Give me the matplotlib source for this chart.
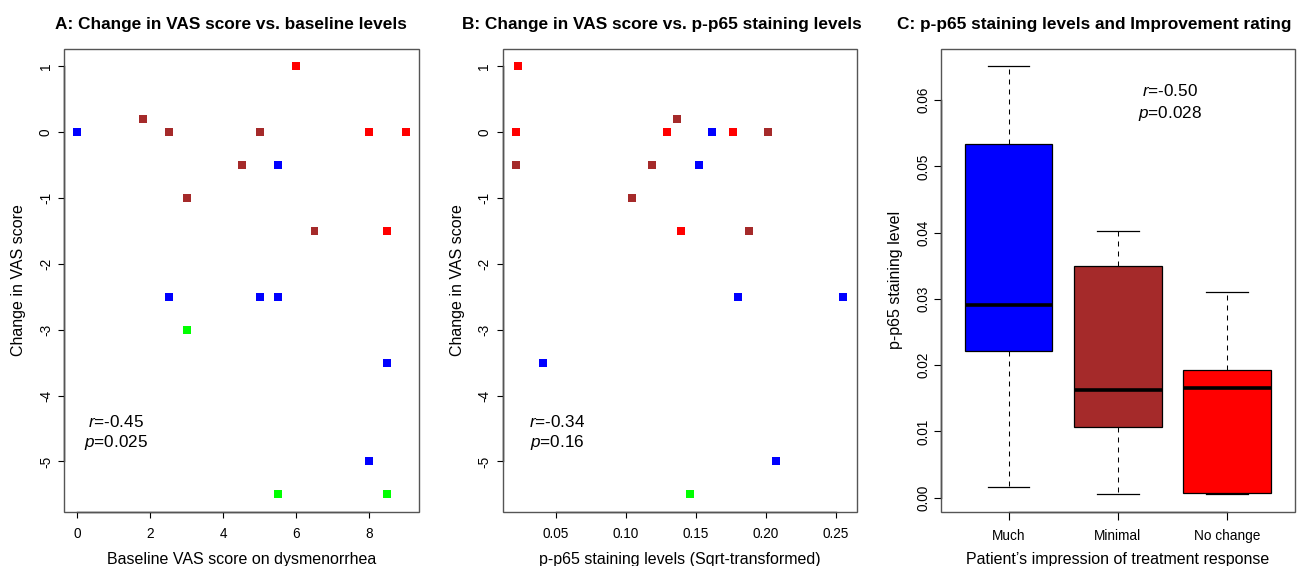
import numpy as np
import matplotlib.pyplot as plt
from matplotlib.patches import Rectangle

plt.rcParams['font.family'] = 'Liberation Sans'
plt.rcParams['axes.unicode_minus'] = False
plt.rcParams['mathtext.fontset'] = 'custom'
plt.rcParams['mathtext.it'] = 'Liberation Sans:italic'
plt.rcParams['mathtext.rm'] = 'Liberation Sans'

# response group colours (R style)
group_colors = {'much': 'blue', 'minimal': 'brown', 'none': 'red', 'other': 'lime'}

# panel A: baseline VAS vs change in VAS
vas_base = [0, 1.8, 2.5, 3, 4.5, 5, 6.5, 5.5, 2.5, 5, 5.5, 8.5, 8, 6, 8, 9, 8.5, 3, 5.5, 8.5]
vas_change_a = [0, 0.2, 0, -1, -0.5, 0, -1.5, -0.5, -2.5, -2.5, -2.5, -3.5, -5, 1, 0, 0, -1.5, -3, -5.5, -5.5]
group_a = ['much', 'minimal', 'minimal', 'minimal', 'minimal', 'minimal', 'minimal',
           'much', 'much', 'much', 'much', 'much', 'much',
           'none', 'none', 'none', 'none', 'other', 'other', 'other']

# panel B: sqrt p-p65 staining vs change in VAS
p65_sqrt = [0.0229, 0.0214, 0.0214, 0.0407, 0.1043, 0.1186, 0.1293, 0.1364, 0.1393, 0.1457,
            0.1521, 0.1614, 0.1764, 0.1800, 0.1879, 0.2014, 0.2071, 0.2547, 0.2552]
vas_change_b = [1, 0, -0.5, -3.5, -1, -0.5, 0, 0.2, -1.5, -5.5, -0.5, 0, 0, -2.5, -1.5, 0, -5, -2.5, -2.5]
group_b = ['none', 'none', 'minimal', 'much', 'minimal', 'minimal', 'none', 'minimal', 'none', 'other',
           'much', 'much', 'none', 'much', 'minimal', 'minimal', 'much', 'much', 'much']

# panel C: p-p65 staining by improvement rating (box summaries)
box_labels = ['Much', 'Minimal', 'No change']
box_groups = ['much', 'minimal', 'none']
box_lo = [0.0016, 0.0005, 0.0005]
box_q1 = [0.0221, 0.0106, 0.00065]
box_med = [0.0291, 0.0163, 0.0166]
box_q3 = [0.0534, 0.0349, 0.0192]
box_hi = [0.0651, 0.0403, 0.0311]

W, H = 1298, 566
fig = plt.figure(figsize=(W / 100, H / 100), dpi=100)


def r_range(vals):
    lo, hi = min(vals), max(vals)
    d = (hi - lo) * 0.04
    return lo - d, hi + d


def make_axes(left, right, top=49.3, bottom=511.5):
    return fig.add_axes([left / W, 1 - bottom / H, (right - left) / W, (bottom - top) / H])


def r_style(ax, xticks, yticks, ylabels=None, xlabels=None, ticklen=4.3, ypad=3.9, xpad=7):
    for s in ax.spines.values():
        s.set_visible(False)
    ax.add_patch(Rectangle((0, 0), 1, 1, transform=ax.transAxes, fill=False,
                           edgecolor='#555555', lw=1.0, clip_on=False, zorder=5))
    ax.spines['left'].set_visible(True)
    ax.spines['bottom'].set_visible(True)
    ax.spines['left'].set_bounds(yticks[0], yticks[-1])
    ax.spines['bottom'].set_bounds(xticks[0], xticks[-1])
    ax.spines['left'].set_linewidth(1.0)
    ax.spines['bottom'].set_linewidth(1.0)
    ax.set_xticks(xticks, xlabels if xlabels else [f'{t:g}' for t in xticks])
    ax.set_yticks(yticks, ylabels if ylabels else [f'{t:g}' for t in yticks])
    ax.tick_params(axis='both', length=ticklen, width=0.8, labelsize=9.8, color='black')
    ax.tick_params(axis='y', pad=ypad, labelrotation=90)
    ax.tick_params(axis='x', pad=xpad)
    plt.setp(ax.get_yticklabels(), va='center')


def labels(ax, title, tx, xlab, ylab):
    ax.set_title(title, fontsize=12.4, fontweight='bold', x=tx, pad=14.4)
    ax.set_xlabel(xlab, fontsize=11.5)
    ax.set_ylabel(ylab, fontsize=11.5)
    ax.xaxis.label.set_va('baseline')
    ax.yaxis.label.set_va('baseline')
    ax.xaxis.set_label_coords(0.5, -0.114)
    ax.yaxis.set_label_coords(-0.1157, 0.5)


# ---- A
axA = make_axes(64.3, 418.8)
axA.scatter(vas_base, vas_change_a, c=[group_colors[g] for g in group_a],
            marker='s', s=33, linewidths=0, zorder=3)
axA.set_xlim(r_range(vas_base))
axA.set_ylim(r_range(vas_change_a))
r_style(axA, [0, 2, 4, 6, 8], [-5, -4, -3, -2, -1, 0, 1])
labels(axA, 'A: Change in VAS score vs. baseline levels', 0.4694,
       'Baseline VAS score on dysmenorrhea', 'Change in VAS score')
axA.text(1.05, -4.472, r'$\mathit{r}$=-0.45', ha='center', va='baseline', fontsize=12.3)
axA.text(1.05, -4.785, r'$\mathit{p}$=0.025', ha='center', va='baseline', fontsize=12.3)

# ---- B
axB = make_axes(502.7, 856.5)
axB.scatter(p65_sqrt, vas_change_b, c=[group_colors[g] for g in group_b],
            marker='s', s=33, linewidths=0, zorder=3)
axB.set_xlim(r_range(p65_sqrt))
axB.set_ylim(r_range(vas_change_a))
r_style(axB, [0.05, 0.10, 0.15, 0.20, 0.25], [-5, -4, -3, -2, -1, 0, 1],
        xlabels=['0.05', '0.10', '0.15', '0.20', '0.25'])
labels(axB, 'B: Change in VAS score vs. p-p65 staining levels', 0.4485,
       'p-p65 staining levels (Sqrt-transformed)', 'Change in VAS score')
axB.text(0.0507, -4.472, r'$\mathit{r}$=-0.34', ha='center', va='baseline', fontsize=12.3)
axB.text(0.0507, -4.785, r'$\mathit{p}$=0.16', ha='center', va='baseline', fontsize=12.3)

# ---- C
axC = make_axes(941.0, 1294.8)
stats = [dict(whislo=lo, q1=q1, med=m, q3=q3, whishi=hi, fliers=[])
         for lo, q1, m, q3, hi in zip(box_lo, box_q1, box_med, box_q3, box_hi)]
bp = axC.bxp(stats, positions=[1, 2, 3], widths=0.8, patch_artist=True, manage_ticks=False,
             capwidths=0.38,
             boxprops=dict(edgecolor='black', linewidth=0.9),
             medianprops=dict(color='black', linewidth=2.6, solid_capstyle='butt'),
             whiskerprops=dict(color='black', linewidth=0.75, linestyle=(0, (4.8, 4.8))),
             capprops=dict(color='black', linewidth=0.9))
for patch, g in zip(bp['boxes'], box_groups):
    patch.set_facecolor(group_colors[g])
axC.set_xlim(0.38, 3.62)
axC.set_ylim(r_range(box_lo + box_hi))
r_style(axC, [1, 2, 3], [0, 0.01, 0.02, 0.03, 0.04, 0.05, 0.06],
        ylabels=['0.00', '0.01', '0.02', '0.03', '0.04', '0.05', '0.06'],
        xlabels=box_labels, ticklen=5.4, ypad=2.4)
labels(axC, 'C: p-p65 staining levels and Improvement rating', 0.433,
       'Patient\u2019s impression of treatment response', 'p-p65 staining level')
axC.text(2.48, 0.06065, r'$\mathit{r}$=-0.50', ha='center', va='baseline', fontsize=12.3)
axC.text(2.48, 0.05728, r'$\mathit{p}$=0.028', ha='center', va='baseline', fontsize=12.3)

fig.savefig('out.png', dpi=100)
